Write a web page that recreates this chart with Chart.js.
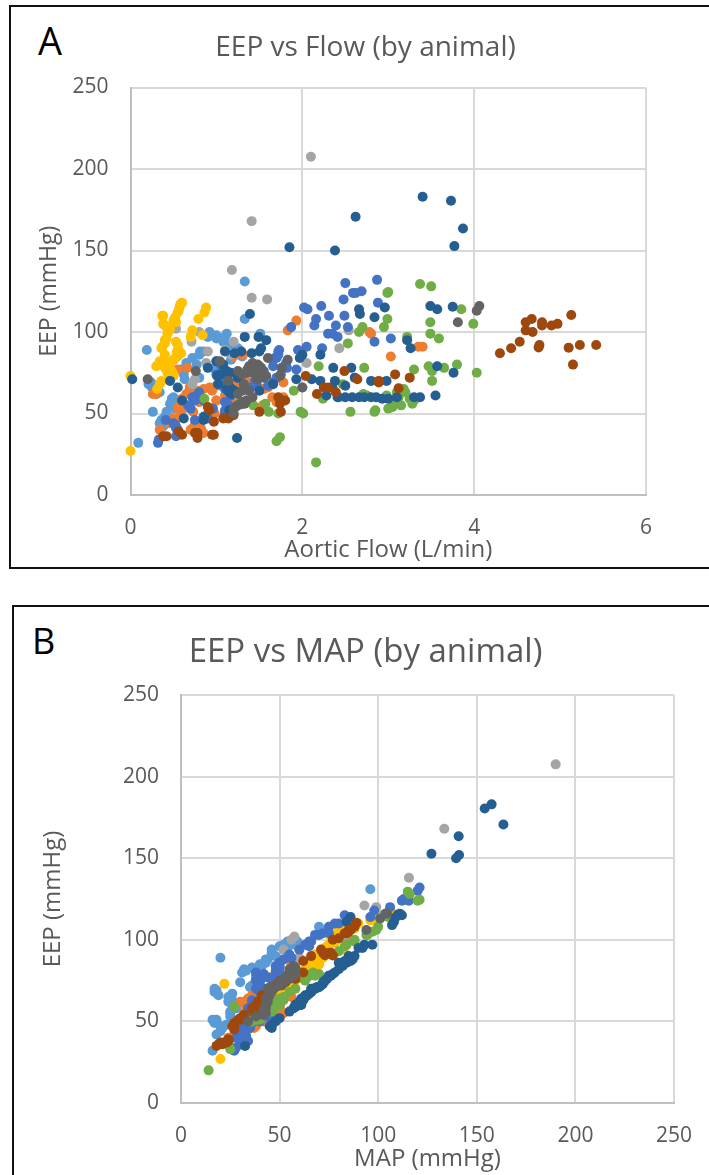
<!DOCTYPE html>
<html>
<head>
<meta charset="utf-8">
<script src="https://cdn.jsdelivr.net/npm/chart.js@4"></script>
<style>
    html, body { margin: 0; padding: 0; background: #fff; overflow: hidden; width: 709px; height: 1175px; }
    .frame { position: absolute; border: 2px solid #111; box-sizing: border-box; }
    .panel { position: absolute; font-family: "Open Sans", sans-serif; color: #000; line-height: 1; }
    canvas { position: absolute; left: 0; }
</style>
</head>
<body>
<div class="frame" style="left:9px; top:5px; width:720px; height:564px;"></div>
<div class="frame" style="left:12px; top:605px; width:720px; height:600px;"></div>
<div class="panel" style="left:38px; top:21px; font-size:38px;">A</div>
<div class="panel" style="left:32px; top:623px; font-size:36px;">B</div>
<canvas id="chartA" width="731" height="569" style="top:0;"></canvas>
<canvas id="chartB" width="731" height="575" style="top:600px;"></canvas>
<script>
const flowTicks = [0, 2, 4, 6];
const mapTicks = [0, 50, 100, 150, 200, 250];
const eepTicks = [0, 50, 100, 150, 200, 250];

const eepLightBlue = [131,108,100,99,99,98,98,97,96,89,90,88,88,85,84,83,82,80,81,77,76,71,72,70,69,68,66,67,63,62,59,58,55,51,51,49,48,42,32,97,96,94,92,86,80,78,74,65,60,56,53,47,46,44];
const flowLightBlue = [1.33,1.33,.92,1.12,1.51,.95,1.0,1.1,1.05,.19,1.25,.81,.85,1.3,.72,1.17,1.0,.77,.65,.59,1.0,.63,.8,.21,.24,.21,.25,.7,.34,.3,.48,.56,.5,.26,.42,.42,.4,.38,.09,.9,1.0,1.08,1.15,.8,1.05,.98,.62,.7,.5,.46,.52,.48,.36,.34];
const mapLightBlue = [96,70,57,54,59,55,56,56,54,20,48,44,43,40,41,36,32,31,33,40,38,35,36,17,18,17,19,26,26,24,27,28,25,16,18,17,23,18,16,52,50,46,46,43,40,38,30,24,26,25,25,20,21,20];

const eepOrange = [107,101,99,100,91,91,85,86,85,78,77,72,69,69,67,66,66,66,65,64,62,62,60,59,58,57,56,55,56,53,52,51,50,47,46,43,42,40,40,38,70,68,67,65,64,63,62,61,60,58,57,55,54,53,50,48,45,44,41,39,41,43];
const flowOrange = [1.93,1.83,2.8,2.78,3.35,3.4,3.03,1.31,1.2,.66,.55,1.1,1.27,1.78,1.0,.92,.69,1.6,1.55,.95,.26,.3,1.78,.6,1,.8,1.2,1.54,1.3,.55,.6,.73,.9,.5,.48,.75,.8,.7,.34,.85,1.35,1.2,1.05,.85,.8,.75,.65,1.1,1.65,1.0,1.7,.62,.55,1.5,.98,.58,.52,.45,.82,.78,.72,.77];
const mapOrange = [86,80,84,85,76,77,70,68,56,58,46,52,53,56,40,38,36,55,56,34,30,33,50,33,50,48,50,52,51,34,36,48,46,38,37,28,27,26,24,30,52,52,40,36,38,50,32,50,50,46,44,32,36,50,42,38,34,30,32,30,28,30];

const eepGray = [207.5,168,138,121,120,102,101,100,94,94,90,89,88,86,81,81,71,68,66];
const flowGray = [2.1,1.41,1.18,1.41,1.59,.53,2.54,.8,.71,1.2,2.43,1.1,.9,1.17,.88,2.05,.75,.72,2.0];
const mapGray = [190,133.5,115.6,93,99,57.5,82,56,52,60,72,60,58,58,50,62,48,46,52];

const eepYellow = [118,115,115,112,112,110,109,108,106,104,101,100,98,97,95,94,90,89,87,84,82,82,80,79,79,77,76,73,73,68,65,27,117,113,110,107,105,103,102,99,96,93,92,91,88,86,85,83,81,78,75,74,70];
const flowYellow = [.6,.57,.88,.55,.86,.37,.52,.79,.53,.4,.72,.44,.84,.7,.4,.53,.36,.56,.59,.52,.34,.48,.38,.3,.42,.45,.48,.5,0,.34,.31,0,.58,.56,.38,.5,.38,.42,.46,.43,.42,.4,.55,.37,.54,.4,.55,.5,.42,.4,.43,.5,.36];
const mapYellow = [106,102,100,98,96,90,78,82,81,80,79,78,78,75,73,82.5,70,72,70,67,65,64,62,60,61,58,57,55,22,50,46,20,105,100,88,88,82,78,76,78,74,72,76,68,70,66,70,66,62,60,58,56,52];

const eepBlue = [132,130,125,124,124,120,118,116,115,114,110,110,108,104,104,103,103,99,97,99,94,96,90,91,89,89,88,84,81,79,77,77,77,74,72,70,69,68,66,65,61,61,58,56,55,53,52,50,48,46,46,42,41,38,32,86,84,83,80,78,76,75,74,72,70,68,67,64,63,60,58,57,55,53,51,49,47,44,43,40,36,34];
const flowBlue = [2.87,2.5,2.69,2.59,2.62,2.48,2.88,2.22,2.02,2.06,2.31,2.49,2.16,2.14,2.39,1.87,2.53,2.3,2.41,2.35,2.84,3.03,2.23,2.05,1.95,1.73,1.72,1.68,1.81,1.66,1.93,1.43,1.08,1.0,1.25,1.12,1.66,1.47,1.4,1.1,1.17,.77,.85,1.12,.67,.96,1.1,1.1,.85,.75,.41,.53,.53,.55,.32,1.72,1.7,1.65,1.05,1.82,1.5,1.1,1.75,1.7,1.45,1.08,1.6,1.13,.8,.72,.75,1.1,1.14,.7,1.12,1.15,.9,.5,.52,.55,.53,.33];
const mapBlue = [121,120,113,112,115.5,106,98,103.5,83,96,80,78,75,75,72,70,68,65,63,66,60,65,55,55,56,54,52,50,48,42,44,47,42,40,46,38,45,42,41,44,38,37,36,38,36,43,46,40,46,35,31,31,33,34,27,50,48,50,38,52,46,38,50,48,42,40,44,42,36,36,34,42,40,34,38,36,34,30,32,28,30,28];

const eepGreen = [129.5,128,124,124.5,114,108,106,105,103,103,100,99,97,96,93,80,79,79,78,78,77,76,75,70,68,64,63,63,60,59,59,59,58,57,56,55,53,52,51,51,51,51,50,50,35.5,33,20,62,61,60,58,55,54,65,56,61,58];
const flowGreen = [3.37,3.5,2.99,3.0,3.85,2.99,3.49,3.99,2.95,2.7,2.66,3.49,3.22,3.59,2.53,3.8,3.47,2.19,2.72,3.65,3.3,3.51,4.03,3.51,2.47,1.9,3.1,3.2,2.43,2.24,.86,3.25,3.07,1.27,1.57,1.43,3.0,2.85,1.61,1.98,2.56,2.84,1.72,2.01,1.74,1.7,2.16,2.71,2.98,3.12,3.3,3.15,3.05,3.18,3.28,2.75,1.35];
const mapGreen = [115,116,120,121,105,100,99,97,94,94.5,88,88,84,83,80,67,66,70,68,65,64,62,63,58,55,50,52,51,50,47,27,48,47,45,46,43,40,39,38,37,40,39,36,35,24,25,14,48,50,46,47,42,41,52,44,49,44];

const eepDarkBlue = [183,180.5,170.7,163.5,152.7,152,150,116,115.5,115,114,114,111,111,109,97,97,95,95,90,88,88,87,87,88,86,84,86,79,78,78,78,75,75,73,72,71,71,71,70,70,70,70,70,68,67,66,66,64,64,61,61,60,60,60,60,60,60,60,59,59,60,60,60,48,47,35,90,82,80,76,74,72,68,66,65,63,62,58,56,52,50,46];
const flowDarkBlue = [3.4,3.73,2.62,3.87,3.77,1.85,2.38,3.49,3.75,2.96,3.57,2.66,2.67,1.39,2.84,1.33,1.49,3.22,1.58,3.26,1.1,1.29,1.21,1.41,1.5,2.0,1.97,2.21,3.57,2.36,2.57,.9,3.76,1.17,1.01,2.61,.02,1.93,2.11,2.38,.46,2.21,2.8,2.98,1.66,2.5,2.35,.55,1.21,1.5,2.28,3.55,2.41,2.5,2.58,2.66,2.72,2.8,2.86,2.93,3.0,3.1,3.3,3.37,.86,.62,1.24,1.52,1.0,1.08,1.12,1.05,1.25,1.02,1.16,1.12,1.15,1.18,.6,1.3,1.15,1.18,.85];
const mapDarkBlue = [157.5,154,163.5,140.8,127,141,139.5,111,110,112,109,86,84,108,107,97,93,92,90,85,86,85,86,83,87,84,82,80,77,76,75,75,73,73,72,71,70,69,69,68,66,67,68,67,66,65,64,63,62,61,60,60,59,58,60,59,58,59,60,58,58,60,61,60,46,45,32.5,88,80,78,74,72,71,66,64,63,62,60,57,55,50,48,46];

const eepDarkOrange = [110.4,108,106,106,105,104,104,101,100,94,92,92,92,90.5,90.4,90,87,80,76,74,73,72,71,70,69,66,65.5,63,62,56,54,51,51,47,47,45,39,38,37,36,35,37,36,38,37,60,58,52,49,66];
const flowDarkOrange = [5.13,4.67,4.6,4.79,4.97,4.79,4.9,4.6,4.68,4.53,4.76,5.23,5.42,4.75,5.1,4.43,4.3,5.15,2.49,3.08,2.04,3.25,2.64,2.89,2.89,2.25,3.12,2.39,2.17,1.74,.9,1.75,1.5,1.08,1.14,.97,.56,.78,.97,.38,.78,.6,.42,.75,.95,1.72,1.8,.92,1.2,2.3];
const mapDarkOrange = [89,88,86,85,85,84,83,80,77,71,75,72,76,73,77,66,62,62,58,53,49,51,47,47,46,41,42,40,39,37,32,29,30,27,26,27,24,24,20,19,18,22,21,24,23,38,36,30,27,43];

const eepDarkGray = [116,113,106,84,83,82,80,79,78,77,76,76,76,76,75,73,73,71,71,70,66,64,64,58,55,53,50,81,80,79,78,78,77,75,74,72,68,62,60,57,56,54];
const flowDarkGray = [4.06,4.03,3.81,1.6,1.83,1.04,1.44,1.5,1.76,1.4,1.25,1.46,.76,1.55,1.35,1.74,1.58,.2,1.47,1.14,2.0,1.3,1.38,1.35,1.25,1.2,1.2,1.42,1.48,1.38,1.43,1.52,1.36,1.42,1.3,1.55,1.32,1.25,1.42,1.3,1.33,1.22];
const mapDarkGray = [104.5,101,94,57,58,55,56,55,56,54,53,52,52,55,50,50,51,45,48,44,45,43,44,43,43,38,34,58,58,56,57,54,54,53,50,50,46,44,43,42,42,42];

const animals = [
    { color: '#5B9BD5', eep: eepLightBlue, flow: flowLightBlue, map: mapLightBlue },
    { color: '#ED7D31', eep: eepOrange, flow: flowOrange, map: mapOrange },
    { color: '#A5A5A5', eep: eepGray, flow: flowGray, map: mapGray },
    { color: '#FFC000', eep: eepYellow, flow: flowYellow, map: mapYellow },
    { color: '#4472C4', eep: eepBlue, flow: flowBlue, map: mapBlue },
    { color: '#70AD47', eep: eepGreen, flow: flowGreen, map: mapGreen },
    { color: '#255E91', eep: eepDarkBlue, flow: flowDarkBlue, map: mapDarkBlue },
    { color: '#9E480E', eep: eepDarkOrange, flow: flowDarkOrange, map: mapDarkOrange },
    { color: '#636363', eep: eepDarkGray, flow: flowDarkGray, map: mapDarkGray }
];

const FONT = '"Open Sans", sans-serif';
const TEXT = '#595959';

function drawScatter(canvas, key, cfg) {
    return new Chart(canvas, {
        type: 'scatter',
        data: {
            datasets: animals.map((a, i) => ({
                data: a.eep.map((y, j) => ({ x: a[key][j], y: y })),
                backgroundColor: a.color,
                borderWidth: 0,
                pointRadius: 5,
                clip: false,
                // later animals sit on top, as in the spreadsheet
                order: animals.length - i
            }))
        },
        options: {
            responsive: false,
            animation: false,
            events: [],
            layout: { padding: 0 },
            scales: {
                x: {
                    type: 'linear',
                    min: cfg.xTicks[0],
                    max: cfg.xTicks[cfg.xTicks.length - 1],
                    afterBuildTicks: s => { s.ticks = cfg.xTicks.map(v => ({ value: v })); },
                    afterFit: s => { s.height = cfg.bottom; },
                    grid: { color: '#D9D9D9', lineWidth: 2, drawTicks: false },
                    border: { color: '#BFBFBF', width: 2 },
                    ticks: { color: TEXT, font: { family: FONT, size: 21 }, padding: 20, maxRotation: 0 },
                    title: {
                        display: true, text: cfg.xTitle, color: TEXT,
                        font: { family: FONT, size: 24 },
                        padding: { top: 0, bottom: cfg.xTitlePad }
                    }
                },
                y: {
                    min: 0,
                    max: 250,
                    afterBuildTicks: s => { s.ticks = eepTicks.map(v => ({ value: v })); },
                    afterFit: s => { s.width = cfg.left; },
                    grid: { color: '#D9D9D9', lineWidth: 2, drawTicks: false },
                    border: { color: '#BFBFBF', width: 2 },
                    ticks: { color: TEXT, font: { family: FONT, size: 21 }, padding: 22 },
                    title: {
                        display: true, text: 'EEP (mmHg)', color: TEXT,
                        font: { family: FONT, size: cfg.yTitleSize },
                        padding: { top: cfg.yTitlePad, bottom: 0 }
                    }
                },
                // empty axis that only keeps the room on the right of the plot
                spacer: {
                    position: 'right',
                    afterFit: s => { s.width = cfg.right; },
                    grid: { display: false },
                    border: { display: false },
                    ticks: { display: false }
                }
            },
            plugins: {
                legend: { display: false },
                tooltip: { enabled: false },
                title: {
                    display: true,
                    text: cfg.title,
                    color: TEXT,
                    font: { family: FONT, size: cfg.titleSize, weight: 'normal' },
                    padding: cfg.titlePad
                }
            }
        }
    });
}

drawScatter(document.getElementById('chartA'), 'flow', {
    xTicks: flowTicks, xTitle: 'Aortic Flow (L/min)', xTitlePad: 4.6,
    yTitleSize: 23, yTitlePad: 36, left: 130.5, right: 85, bottom: 74,
    title: 'EEP vs Flow (by animal)', titleSize: 28, titlePad: { top: 31.2, bottom: 22.7 }
});

drawScatter(document.getElementById('chartB'), 'map', {
    xTicks: mapTicks, xTitle: 'MAP (mmHg)', xTitlePad: 1.6,
    yTitleSize: 24, yTitlePad: 38.6, left: 181, right: 57, bottom: 72,
    title: 'EEP vs MAP (by animal)', titleSize: 33, titlePad: { top: 33, bottom: 22.4 }
});
</script>
</body>
</html>
